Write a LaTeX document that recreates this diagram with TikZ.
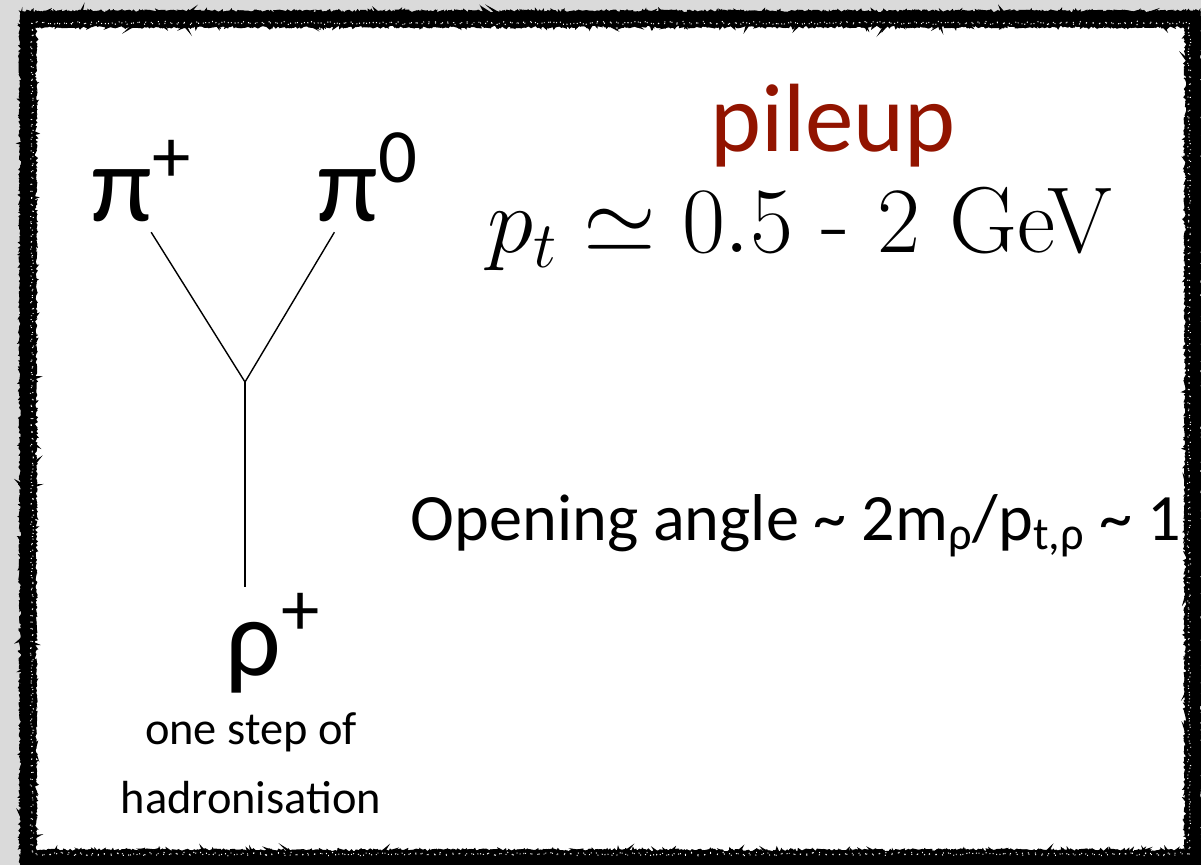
\RequirePackage{fix-cm}
\documentclass[tikz,border=0pt]{standalone}
\usepackage[no-math]{fontspec}
\newfontfamily\slidefont{Carlito}
\usepackage{xcolor}
\usepackage{tikz}
\usetikzlibrary{
  positioning,
  calc,
  decorations.pathmorphing
}
\definecolor{pileupred}{RGB}{146,20,0}
\definecolor{slidegray}{RGB}{218,218,218}

\tikzset{
  particle/.style={font=\slidefont\fontsize{78}{80}\selectfont, inner sep=0pt, outer sep=7pt},
  slidetext/.style={font=\slidefont\fontsize{47.1}{52}\selectfont, inner sep=0pt},
  notetext/.style={font=\slidefont\fontsize{33}{49}\selectfont, inner sep=0pt, align=center},
  chalk/.style={line width=2pt, decorate,
    decoration={random steps, segment length=1.6pt, amplitude=1.4pt}},
  speck/.style={white, line width=0.8pt, dash pattern=on 0.6pt off 4.5pt, decorate,
    decoration={random steps, segment length=2pt, amplitude=1.2pt}}
}

\begin{document}
\begin{tikzpicture}[x=0.025cm,y=-0.025cm,line width=1pt]
  \useasboundingbox (0,0) rectangle (1201,865);
  \clip (0,0) rectangle (1201,865);
  \fill[slidegray] (0,0) rectangle (1201,865);
  \fill[white] (28,19) rectangle (1193,858);

  % nodes
  \node[particle, anchor=base west] (pip) at (82,222) {π\textsuperscript{+}};
  \node[particle, anchor=base west] (pizero) at (308,222) {π\textsuperscript{0}};
  \node[particle, outer sep=4pt, anchor=base west] (rho) at (220,675) {ρ\textsuperscript{+}};
  \node[notetext, below=0.35cm of rho, xshift=-0.55cm] (step) {one step of\\hadronisation};
  \coordinate (vtx) at (245,382);

  \node[font=\slidefont\fontsize{69}{72}\selectfont, text=pileupred, inner sep=0pt, anchor=base] (pileup) at (833,152) {pileup};
  \node[font=\fontsize{66.5}{70}\selectfont, inner sep=0pt, anchor=base] (ptrange) at (800,253) {$p_t \simeq 0.5$ - 2 GeV};
  \node[slidetext, anchor=base west] (angle) at (410,540)
    {Opening angle \textasciitilde{} 2m\textsubscript{ρ}/p\textsubscript{t,ρ} \textasciitilde{} 1};

  % lines
  \draw ($(pip.south west)!0.58!(pip.south east)$) -- (vtx);
  \draw ($(pizero.south west)!0.22!(pizero.south east)$) -- (vtx);
  \draw (vtx) -- (vtx |- rho.north);

  % chalk frame
  \draw[line width=10pt] (28,19) rectangle (1193,858);
  \foreach \k in {1,2,3} {
    \draw[chalk] (22,13) rectangle (1199,864);
    \draw[chalk] (34,25) rectangle (1187,852);
  }
  \foreach \k in {1,2}
    \draw[speck] (32,23) rectangle (1189,854);
\end{tikzpicture}
\end{document}
